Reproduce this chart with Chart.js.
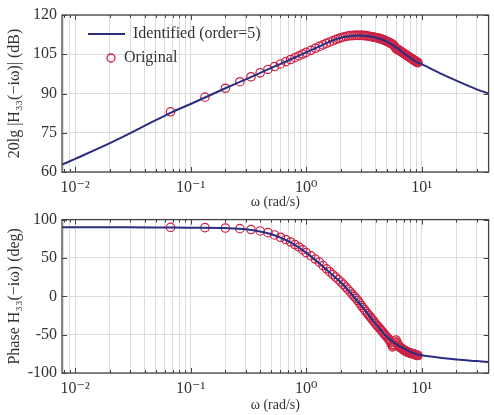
<!DOCTYPE html>
<html>
<head>
<meta charset="utf-8">
<script src="https://cdn.jsdelivr.net/npm/chart.js@4.4.0/dist/chart.umd.min.js"></script>
<style>
  body { margin: 0; background: #fff; }
  #wrap { position: relative; width: 494px; height: 415px; background: #fff; }
  canvas { position: absolute; left: 0; }
</style>
</head>
<body>
<div id="wrap">
  <canvas id="ChartMag" width="494" height="212" style="top:0"></canvas>
  <canvas id="ChartPhase" width="494" height="210" style="top:205px"></canvas>
</div>
<script>
// identified model (order=5)
var omegaFit = [0.0077, 0.01, 0.02, 0.05, 0.07, 0.1, 0.2, 0.3, 0.5, 0.7, 1.0, 1.3, 1.6, 2.0, 2.5, 3.0, 3.5, 4.0, 5.0, 6.0, 7.0, 8.0, 9.0, 10, 15, 20, 30, 38];
var magFit = [62.8, 65.0, 71.0, 79.8, 83.0, 86.0, 92.0, 95.4, 99.8, 102.6, 105.7, 108.0, 109.8, 111.3, 112.1, 112.2, 111.9, 111.4, 109.8, 107.6, 105.4, 103.6, 102.1, 101.2, 97.4, 94.9, 91.6, 90.0];
var phaseFit = [90, 90, 89.9, 89.8, 89.7, 89.5, 89.0, 87.5, 81.0, 72.0, 57.0, 43.0, 31.0, 18.0, 2.0, -12.0, -25.0, -36.0, -53.0, -62.0, -68.0, -72.5, -75.5, -77.0, -80.5, -82.5, -84.5, -85.5];

// original measured points
var omegaOrig = [0.067, 0.133, 0.2, 0.267, 0.333, 0.4, 0.467, 0.533, 0.6, 0.667, 0.733, 0.8, 0.867, 0.933,
  1.0, 1.1, 1.2, 1.3, 1.4, 1.5, 1.6, 1.7, 1.8, 1.9, 2.0, 2.1, 2.2, 2.3, 2.4, 2.5, 2.6, 2.7, 2.8, 2.9,
  3.0, 3.1, 3.2, 3.3, 3.4, 3.5, 3.6, 3.7, 3.8, 3.9, 4.0, 4.1, 4.2, 4.3, 4.4, 4.5, 4.6, 4.7, 4.8, 4.9,
  5.0, 5.1, 5.2, 5.3, 5.4, 5.5, 5.6, 5.7, 5.8, 5.9, 6.0, 6.1, 6.2, 6.3, 6.4, 6.5, 6.6, 6.7, 6.8, 6.9,
  7.0, 7.1, 7.2, 7.3, 7.4, 7.5, 7.6, 7.7, 7.8, 7.9, 8.0, 8.1, 8.2, 8.3, 8.4, 8.5, 8.6, 8.7, 8.8, 8.9,
  9.0, 9.1, 9.2, 9.3];
var magOrig = [83.0, 88.6, 92.0, 94.5, 96.4, 97.9, 99.2, 100.3, 101.3, 102.2, 103.0, 103.7, 104.4, 105.1,
  105.7, 106.5, 107.3, 108.0, 108.6, 109.2, 109.7, 110.1, 110.6, 111.0, 111.3, 111.6, 111.8, 112.0, 112.1, 112.1, 112.2, 112.2, 112.2, 112.2,
  112.2, 112.2, 112.1, 112.1, 112.0, 111.9, 111.8, 111.7, 111.6, 111.5, 111.4, 111.3, 111.2, 111.1, 110.9, 110.8, 110.6, 110.5, 110.3, 110.1,
  109.9, 109.8, 109.6, 109.4, 109.2, 109.0, 108.8, 108.5, 108.2, 107.7, 107.2, 107.0, 106.8, 106.7, 106.5, 106.3, 106.1, 105.9, 105.7, 105.5,
  105.3, 105.2, 105.0, 104.8, 104.6, 104.5, 104.3, 104.1, 103.9, 103.8, 103.6, 103.5, 103.3, 103.2, 103.0, 102.9, 102.7, 102.6, 102.4, 102.3,
  102.1, 102.0, 101.9, 101.8];
var phaseOrig = [89.8, 89.5, 89.0, 88.2, 87.0, 85.2, 83.0, 80.0, 77.0, 74.0, 70.8, 67.4, 64.3, 60.5,
  57.0, 52.8, 48.6, 44.6, 40.0, 35.8, 32.0, 28.3, 25.0, 21.7, 18.5, 15.5, 12.0, 9.0, 6.0, 3.0, 0.0, -2.7, -5.5, -8.7,
  -12.0, -14.8, -17.5, -20.0, -22.5, -24.8, -27.0, -29.3, -31.5, -33.8, -36.0, -37.8, -39.5, -41.3, -43.0, -44.8, -46.5, -48.3, -50.0, -51.5,
  -53.0, -54.5, -56.0, -58.0, -60.0, -63.0, -66.0, -64.5, -63.0, -60.0, -57.0, -59.5, -62.0, -64.0, -66.0, -66.5, -67.0, -67.8, -68.5, -69.3,
  -70.0, -70.5, -71.0, -71.5, -72.0, -72.5, -73.0, -73.3, -73.5, -73.8, -74.0, -74.3, -74.5, -74.8, -75.0, -75.3, -75.5, -75.8, -76.0, -76.3,
  -76.5, -76.8, -77.0, -77.2];

var decades = [0.01, 0.1, 1, 10];
var decadeLabels = ['10\u207B\u00B2', '10\u207B\u00B9', '10\u2070', '10\u00B9'];
var magLabels = [60, 75, 90, 105, 120];
var phaseLabels = [-100, -50, 0, 50, 100];

Chart.defaults.font.family = "'Liberation Serif', 'DejaVu Serif', serif";
Chart.defaults.color = '#333';

function pairs(xs, ys) {
  var out = [];
  for (var i = 0; i < xs.length; i++) out.push({x: xs[i], y: ys[i]});
  return out;
}

function isDecade(v) {
  var l = Math.log10(v);
  return Math.abs(l - Math.round(l)) < 1e-9;
}

// box + inward tick marks on all four sides
var frameTicks = {
  id: 'frameTicks',
  afterDatasetsDraw: function(chart) {
    var ctx = chart.ctx, a = chart.chartArea;
    var xs = chart.scales.x, ys = chart.scales.y;
    ctx.save();
    ctx.strokeStyle = '#444';
    ctx.lineWidth = 1;
    xs.ticks.forEach(function(t) {
      var px = Math.round(xs.getPixelForValue(t.value)) + 0.5;
      var len = isDecade(t.value) ? 5 : 3;
      ctx.beginPath();
      ctx.moveTo(px, a.bottom); ctx.lineTo(px, a.bottom - len);
      ctx.moveTo(px, a.top); ctx.lineTo(px, a.top + len);
      ctx.stroke();
    });
    ys.ticks.forEach(function(t) {
      var py = Math.round(ys.getPixelForValue(t.value)) + 0.5;
      var len = t.label !== '' ? 5 : 3;
      ctx.beginPath();
      ctx.moveTo(a.left, py); ctx.lineTo(a.left + len, py);
      ctx.moveTo(a.right, py); ctx.lineTo(a.right - len, py);
      ctx.stroke();
    });
    ctx.lineWidth = 1.3;
    ctx.strokeRect(a.left, a.top, a.right - a.left, a.bottom - a.top);
    ctx.restore();
  }
};

// legend inside the top-left corner of the magnitude plot
var innerLegend = {
  id: 'innerLegend',
  afterDraw: function(chart) {
    if (chart.canvas.id !== 'ChartMag') return;
    var ctx = chart.ctx;
    ctx.save();
    ctx.strokeStyle = '#2a2d80';
    ctx.lineWidth = 2.2;
    ctx.beginPath(); ctx.moveTo(88, 34); ctx.lineTo(125, 34); ctx.stroke();
    ctx.strokeStyle = '#cc2244';
    ctx.lineWidth = 1.3;
    ctx.beginPath(); ctx.arc(111, 58, 4, 0, Math.PI * 2); ctx.stroke();
    ctx.fillStyle = '#333';
    ctx.font = "16px 'Liberation Serif', serif";
    ctx.textBaseline = 'middle';
    ctx.fillText('Identified (order=5)', 133, 34);
    ctx.fillText('Original', 124, 58);
    ctx.restore();
  }
};

function makeChart(id, fitY, origY, yMin, yMax, yStep, yLabels, yTitle, pad, xHeight) {
  var el = document.getElementById(id);
  var ctx = el.getContext('2d');
  return new Chart(ctx, {
    type: 'line',
    data: {
      datasets: [
        {
          label: 'Identified (order=5)',
          data: pairs(omegaFit, fitY),
          borderColor: '#2a2d80',
          borderWidth: 2,
          pointRadius: 0,
          cubicInterpolationMode: 'monotone',
          fill: false
        },
        {
          label: 'Original',
          data: pairs(omegaOrig, origY),
          showLine: false,
          pointStyle: 'circle',
          pointRadius: 4.2,
          pointBorderWidth: 1.2,
          pointBorderColor: '#cc2244',
          pointBackgroundColor: 'rgba(0,0,0,0)'
        }
      ]
    },
    options: {
      responsive: false,
      animation: false,
      layout: { padding: pad },
      plugins: { legend: { display: false }, tooltip: { enabled: false } },
      scales: {
        x: {
          type: 'logarithmic',
          min: 0.0077,
          max: 38,
          afterBuildTicks: function(scale) {
            var t = [];
            for (var e = -3; e <= 1; e++) {
              for (var m = 1; m <= 9; m++) {
                var v = parseFloat((m * Math.pow(10, e)).toPrecision(6));
                if (v >= scale.min && v <= scale.max) t.push({value: v});
              }
            }
            scale.ticks = t;
          },
          afterFit: function(scale) { scale.height = xHeight; },
          grid: { color: '#dcdcdc', drawTicks: false },
          border: { display: false },
          ticks: {
            autoSkip: false,
            maxRotation: 0,
            padding: 6,
            font: { size: 16 },
            callback: function(v) {
              var i = decades.indexOf(v);
              return i >= 0 ? decadeLabels[i] : '';
            }
          },
          title: {
            display: true,
            text: '\u03C9 (rad/s)',
            font: { size: 14 },
            padding: { top: 0, bottom: 1 }
          }
        },
        y: {
          min: yMin,
          max: yMax,
          afterFit: function(scale) { scale.width = 62; },
          grid: { color: '#dcdcdc', drawTicks: false },
          border: { display: false },
          ticks: {
            stepSize: yStep,
            padding: 5,
            font: { size: 16 },
            callback: function(v) {
              return yLabels.indexOf(v) >= 0 ? String(v) : '';
            }
          },
          title: {
            display: true,
            text: yTitle,
            font: { size: 16 },
            padding: { top: 5, bottom: 0 }
          }
        }
      }
    },
    plugins: [frameTicks, innerLegend]
  });
}

var magChart = makeChart('ChartMag', magFit, magOrig, 60, 120, 7.5, magLabels,
  '20lg |H\u2083\u2083(\u2212i\u03C9)| (dB)', { top: 15, right: 2, left: 0, bottom: 0 }, 40);
var phaseChart = makeChart('ChartPhase', phaseFit, phaseOrig, -100, 100, 25, phaseLabels,
  'Phase H\u2083\u2083(\u2212i\u03C9) (deg)', { top: 12, right: 2, left: 0, bottom: 0 }, 42);
</script>
</body>
</html>
